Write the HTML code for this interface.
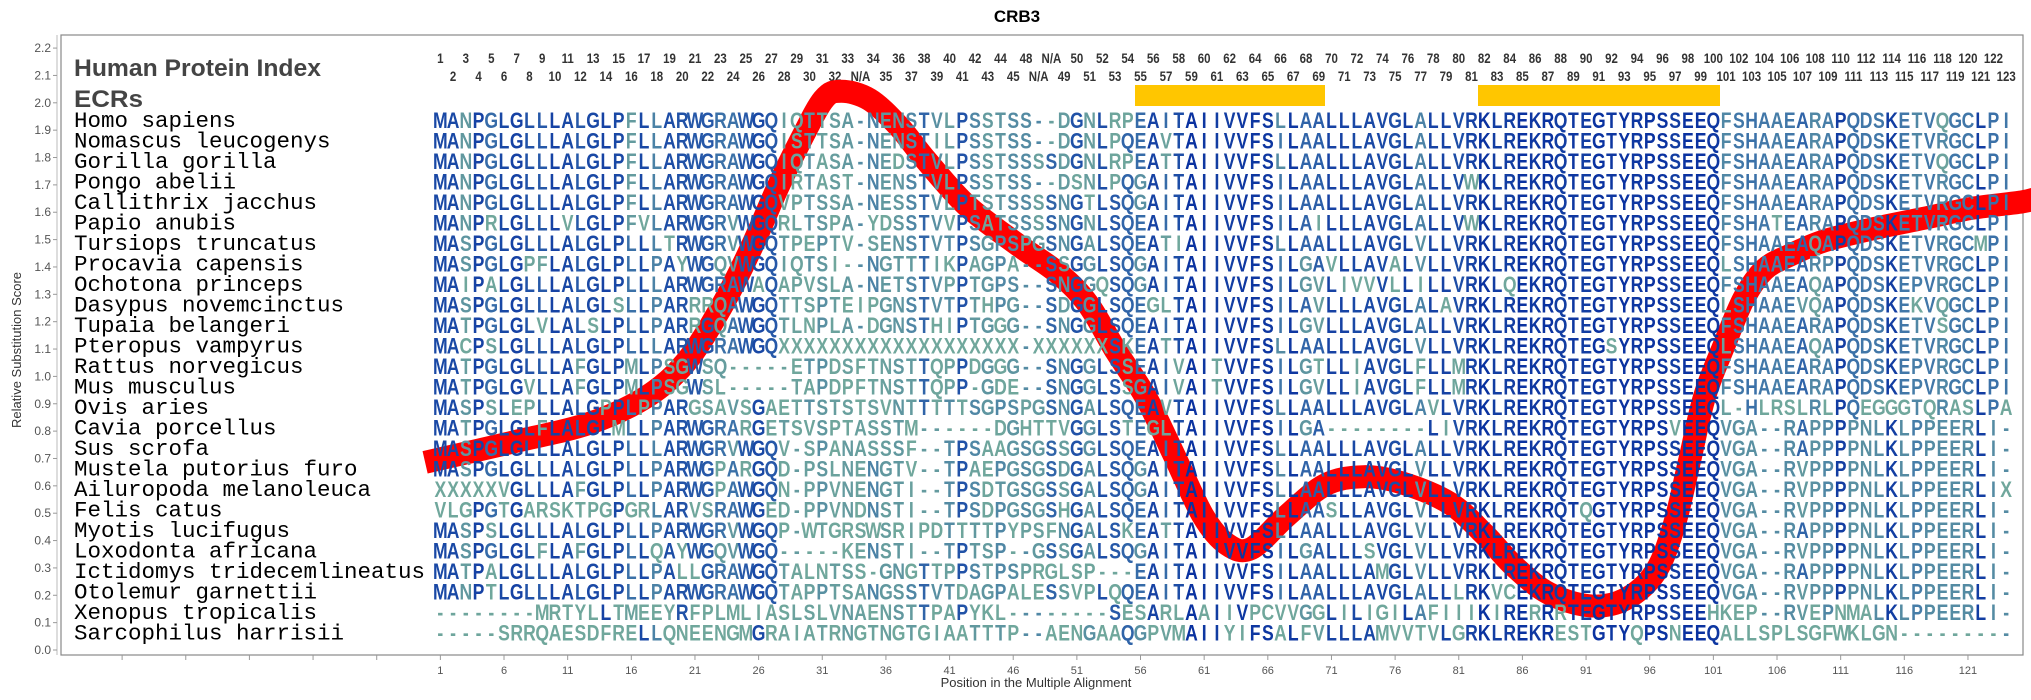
<!DOCTYPE html>
<html><head><meta charset="utf-8">
<style>
html,body{margin:0;padding:0;background:#fff;}
svg{display:block;}
</style></head>
<body>
<svg id="s" width="2031" height="700" xmlns="http://www.w3.org/2000/svg" font-family="Liberation Sans, sans-serif">
<rect width="2031" height="700" fill="#fff"/>
<text x="1017" y="22" text-anchor="middle" font-weight="bold" font-size="17" fill="#000">CRB3</text>
<rect x="61" y="35" width="1962" height="620" fill="none" stroke="#888" stroke-width="1.2"/>
<line x1="57" y1="35" x2="57" y2="655" stroke="#bbb" stroke-width="1"/>
<g id="yax"></g>
<g id="xax"></g>
<text transform="translate(21,350) rotate(-90)" text-anchor="middle" font-size="13" fill="#333">Relative Substitution Score</text>
<text x="1036" y="687" text-anchor="middle" font-size="13" fill="#333">Position in the Multiple Alignment</text>
<text x="74" y="76" font-weight="bold" font-size="24" fill="#444" textLength="247" lengthAdjust="spacingAndGlyphs">Human Protein Index</text>
<text x="74" y="107" font-weight="bold" font-size="24" fill="#444" textLength="69" lengthAdjust="spacingAndGlyphs">ECRs</text>
<rect x="1135" y="85" width="190" height="21" fill="#ffc600"/>
<rect x="1478" y="85" width="242" height="21" fill="#ffc600"/>
<g id="idx"></g>
<g id="names"></g>
<path id="red" fill="none" stroke="#ff0000" stroke-width="23"/>
<g id="seqs"></g>
</svg>
<script>
var NS="http://www.w3.org/2000/svg";
function el(t,a,txt,p){var e=document.createElementNS(NS,t);for(var k in a)e.setAttribute(k,a[k]);if(txt!=null)e.textContent=txt;(p||document.getElementById('s')).appendChild(e);return e;}
var X0=434,CW=12.73,Y0=120,RH=20.5;
var yax=document.getElementById('yax');
for(var i=0;i<=22;i++){var y=650-i*27.36;
el('line',{x1:53,y1:y,x2:57,y2:y,stroke:'#999','stroke-width':1},null,yax);
el('text',{x:51,y:y+4,'text-anchor':'end','font-size':12,fill:'#555'},(i/10).toFixed(1),yax);}
var xax=document.getElementById('xax');
for(var c=-34;c<=124;c+=5){var x=X0+(c-0.5)*CW;if(x<61||x>2023)continue;
el('line',{x1:x,y1:655,x2:x,y2:660,stroke:'#999','stroke-width':1},null,xax);
if(c>=1)el('text',{x:x,y:674,'text-anchor':'middle','font-size':11,fill:'#555'},String(c),xax);}
var lab=[];for(var c=1;c<=124;c++){var v;
if(c<=33)v=c;else if(c==34)v='N/A';else if(c<=46)v=c-1;else if(c==47)v=48;else if(c==48||c==49)v='N/A';else v=c-1;lab.push(String(v));}
var idx=document.getElementById('idx');
for(var c=1;c<=124;c++){var x=X0+(c-0.5)*CW;var y=(c%2==1)?63:81;
var g=el('g',{transform:'translate('+x+','+y+') scale(0.82,1)'},null,idx);
el('text',{x:0,y:0,'text-anchor':'middle','font-weight':'bold','font-size':14,fill:'#333'},lab[c-1],g);}
var names=["Homo sapiens","Nomascus leucogenys","Gorilla gorilla","Pongo abelii","Callithrix jacchus","Papio anubis","Tursiops truncatus","Procavia capensis","Ochotona princeps","Dasypus novemcinctus","Tupaia belangeri","Pteropus vampyrus","Rattus norvegicus","Mus musculus","Ovis aries","Cavia porcellus","Sus scrofa","Mustela putorius furo","Ailuropoda melanoleuca","Felis catus","Myotis lucifugus","Loxodonta africana","Ictidomys tridecemlineatus","Otolemur garnettii","Xenopus tropicalis","Sarcophilus harrisii"];
var seqs=[
"MANPGLGLLLALGLPFLLARWGRAWGQIQTTSA-NENSTVLPSSTSS--DGNLRPEAITAIIVVFSLLAALLLAVGLALLVRKLREKRQTEGTYRPSSEEQFSHAAEARAPQDSKETVQGCLPI",
"MANPGLGLLLALGLPFLLARWGRAWGQISTTSA-NENSTILPSSTSS--DGNLPQEAVTAIIVVFSILAALLLAVGLALLVRKLREKRQTEGTYRPSSEEQFSHAAEARAPQDSKETVRGCLPI",
"MANPGLGLLLALGLPFLLARWGRAWGQIQTASA-NEDSTVLPSSTSSSSDGNLRPEATTAIIVVFSLLAALLLAVGLALLVRKLREKRQTEGTYRPSSEEQFSHAAEARAPQDSKETVQGCLPI",
"MANPGLGLLLALGLPFLLARWGRAWGQIRTAST-NENSTVLPSSTSS--DSNLPQGAITAIIVVFSILAALLLAVGLALLVWKLREKRQTEGTYRPSSEEQFSHAAEARAPQDSKETVRGCLPI",
"MANPGLGLLLALGLPFLLARWGRAWGQVPTSSA-NESSTVLPTSTSSSSNGTLSQGAITAIIVVFSILAALLLAVGLALLVRKLREKRQTEGTYRPSSEEQFSHAAEARAPQDSKETVRGCLPI",
"MANPRLGLLLVLGLPFVLARWGRVWGQRLTSPA-YDSSTVVPSATSSSSNGNLSQEAITAIIVVFSILAILLLAVGLALLVWKLREKRQTEGTYRPSSEEQFSHATEARAPQDSKETVRGCLPI",
"MASPGLGLLLALGLPLLLTRWGRVWGQTPEPTV-SENSTVTPSGPSPGSNGALSQEATIAIIVVFSLLAALLLAVGLVLLVRKLREKRQTEGTYRPSSEEQFSHAAEAQAPQDSKETVRGCMPI",
"MASPGLGPFLALGLPLLPAYWGQVWGQIQTSI--NGTTTIKPAGPA--SSGGLSQGAITAIIVVFSILGAVLLAVALVLLVRKLREKRQTEGTYRPSSEEQLSHAAEARPPQDSKETVRGCLPI",
"MAIPALGLLLALGLPLLLARWGRAWAQAPVSLA-NETSTVPPTGPS--SNGGQSQGAITAIIVVFSILGVLIVVVLLILLVRKLQEKRQTEGTYRPSSEEQFSHAAEAQAPQDSKEPVRGCLPI",
"MASPGLGLLLALGLSLLPARRRQAWGQTTSPTEIPGNSTVTPTHPG--SDGGLSQEGLTAIIVVFSILAVLLLAVGLALAVRKLREKRQTEGTYRPSSEEQLSHAAEVQAPQDSKEKVQGCLPI",
"MATPGLGLVLALSLPLLPARRGQAWGQTLNPLA-DGNSTHIPTGGG--SNGGLSQEAITAIIVVFSILGVLLLAVGLALLVRKLREKRQTEGTYRPSSEEQFSHAAEARAPQDSKETVSGCLPI",
"MACPSLGLLLALGLPLLLARWGRAWGQXXXXXXXXXXXXXXXXXXX-XXXXXXSKEATTAIIVVFSLLAALLLAVGLVLLVRKLREKRQTEGSYRPSSEEQLSHAAEAQAPQDSKETVRGCLPI",
"MATPGLGLLLAFGLPMLPSGWSQ-----ETPDSFTNSTTQPPDGGG--SNGGLSSEAIVAITVVFSILGTLLIAVGLFLLMRKLREKRQTEGTYRPSSEEQFSHAAEARAPQDSKEPVRGCLPI",
"MATPGLGVLLAFGLPMLPSGWSL-----TAPDPFTNSTTQPP-GDE--SNGGLSSGAIVAITVVFSILGVLLIAVGLFLLMRKLREKRQTEGTYRPSSEEQFSHAAEARAPQDSKEPVRGCLPI",
"MASPSLEPLLALGPPLPPARGSAVSGAETTSTSTSVNTTTTTSGPSPGSNGALSQEAVTAIIVVFSLLAALLLAVGLAVLVRKLREKRQTEGTYRPSSEEQL-HLRSLRLPQEGGGTQRASLPA",
"MATPGLGLFLALGLMLLPARWGRARGETSVSPTASSTM------DGHTTVGGLSTEGLTAIIVVFSILGA--------LIVRKLREKRQTEGTYRPSVEEQVGA--RAPPPPNLKLPPEERLI-",
"MASPGLGLLLALGLPLLLARWGRVWGQV-SPANASSSF--TPSAAGSGSSGGLSQEAITAIIVVFSLLAALLLAVGLALLVRKLREKRQTEGTYRPSSEEQVGA--RAPPPPNLKLPPEERLI-",
"MASPGLGLLLALGLPLLPARWGPARGQD-PSLNENGTV--TPAEPGSGSDGALSQGAITAIIVVFSLLAALLLAVGLVLLVRKLREKRQTEGTYRPSSEEQVGA--RVPPPPNLKLPPEERLI-",
"XXXXXVGLLLAFGLPLLPARWGPAWGQN-PPVNENGTI--TPSDTGSGSSGALSQGAITAIIVVFSLLAALLLAVGLVLLVRKLREKRQTEGTYRPSSEEQVGA--RVPPPPNLKLPPEERLIX",
"VLGPGTGARSKTPGPGRLARVSRAWGED-PPVNDNSTI--TPSDPGSGSHGALSQEAITAIIVVFSLLAASLLAVGLVLLVRKLREKRQTQGTYRPSSEEQVGA--RVPPPPNLKLPPEERLI-",
"MASPSLGLLLALGLPLLPARWGRVWGQP-WTGRSWSRIPDTTTTPYPSFNGALSKEATTAIIVVFSLLAALLLAVGLVLLVRKLREKRQTEGTYRPSSEEQVGA--RAPPPPNLKLPPEERLI-",
"MASPGLGLFLAFGLPLLQAYWGQVWGQ-----KENSTI--TPTSP--GSSGALSQGAITAIIVVFSILGALLLSVGLVLLVRKLREKRQTEGTYRPSSEEQVGA--RVPPPPNLKLPPEERLI-",
"MATPALGLLLALGLPLLPALLGRAWGQTALNTSS-GNGTTPPSTPSPRGLSP---EAITAIIVVFSILAALLLAMGLVLLVRKLREKRQTEGTYRPSSEEQVGA--RAPPPPNLKLPPEERLI-",
"MANPTLGLLLALGLPLLPARWGRAWGQTAPPTSANGSSTVTDAGPALESSVPLQQEAITAIIVVFSILAALLLAVGLALLLRKVCEKRQTEGTYRPSSEEQVGA--RVPPPPNLKLPPEERLI-",
"--------MRTYLLTMEEYRFPLMLIASLSLVNAENSTTPAPYKL--------SESARLAAIIVPCVVGGLILIGILAFIIIKIRERRRTEGTYRPSSEEHKEP--RVEPNMALKLPPEERLI-",
"-----SRRQAESDFRELLQNEENGMGRAIATRNGTNGTGIAATTTP--AENGAAQGPVMAIIYIFSALFVLLLAMVVTVLGRKLREKRESTGTYQPSNEEQALLSPLSGFWKLGN---------"];
for(var r=0;r<seqs.length;r++){var s=seqs[r];while(s.length<124)s+='-';seqs[r]=s.substring(0,124);}
var N=seqs.length;
var ng=document.getElementById('names');
for(var r=0;r<N;r++){el('text',{x:74,y:Y0+r*RH+7,'font-family':'Liberation Mono, DejaVu Sans Mono, monospace','font-size':22.5,fill:'#000'},names[r],ng);}
var stops=[[0.0,[115,170,155]],[0.3,[95,150,160]],[0.5,[70,125,168]],[0.75,[35,85,168]],[1.0,[10,50,160]]];
function col(f){for(var i=1;i<stops.length;i++){if(f<=stops[i][0]){var a=stops[i-1],b=stops[i],t=(f-a[0])/(b[0]-a[0]);
return 'rgb('+[0,1,2].map(function(k){return Math.round(a[1][k]+(b[1][k]-a[1][k])*t)}).join(',')+')';}}return 'rgb(10,50,160)';}
var sg=document.getElementById('seqs');var SC=0.8;
for(var r=0;r<N;r++){var y=Y0+r*RH+7.8;
var g=el('g',{transform:'scale('+SC+',1)'},null,sg);
var t=el('text',{y:y,'font-weight':'bold','font-size':22,'text-anchor':'middle'},null,g);
for(var c=0;c<124;c++){var ch=seqs[r][c];var cnt=0;for(var q=0;q<N;q++)if(seqs[q][c]==ch)cnt++;
var f=cnt/N;var ts=document.createElementNS(NS,'tspan');ts.setAttribute('x',(X0+(c+0.5)*CW)/SC);ts.setAttribute('fill',col(f));ts.textContent=ch;t.appendChild(ts);}}
var pts=[[-0.7,16.7],[6.3,15.7],[12.2,14.8],[16.7,13.5],[19.8,11.8],[22.5,9.2],[24.8,6.4],[27,3.3],[28.8,1.0],[30.6,-1.0],[32,-1.4],[34.2,-1.0],[36.5,0.3],[38.7,2.0],[41.9,4.2],[45.9,6.1],[49.1,7.5],[51.4,9.0],[53.6,11.3],[55.9,13.5],[58.1,16.3],[60.4,19.3],[62.3,20.7],[64.2,20.9],[67,19.3],[70,17.8],[73,17.4],[76,17.7],[79.8,18.7],[82.5,20.2],[84.9,21.8],[87.6,23.1],[90.8,23.7],[93.5,23.4],[95.9,22.1],[97.4,19.8],[98.6,16.7],[99.8,13.5],[101.4,10.9],[102.9,8.7],[104.5,7.3],[106.5,6.6],[109.2,5.9],[113.1,5.3],[117,4.8],[120.9,4.3],[124.7,4.0],[126,3.8]];
var P=pts.map(function(p){return [X0+p[0]*CW,Y0+p[1]*RH];});
var d='M'+P[0][0].toFixed(1)+','+P[0][1].toFixed(1);
for(var i=0;i<P.length-1;i++){var p0=P[Math.max(0,i-1)],p1=P[i],p2=P[i+1],p3=P[Math.min(P.length-1,i+2)];
var c1=[p1[0]+(p2[0]-p0[0])/6,p1[1]+(p2[1]-p0[1])/6],c2=[p2[0]-(p3[0]-p1[0])/6,p2[1]-(p3[1]-p1[1])/6];
d+=' C'+c1[0].toFixed(1)+','+c1[1].toFixed(1)+' '+c2[0].toFixed(1)+','+c2[1].toFixed(1)+' '+p2[0].toFixed(1)+','+p2[1].toFixed(1);}
document.getElementById('red').setAttribute('d',d);
</script>
</body></html>
